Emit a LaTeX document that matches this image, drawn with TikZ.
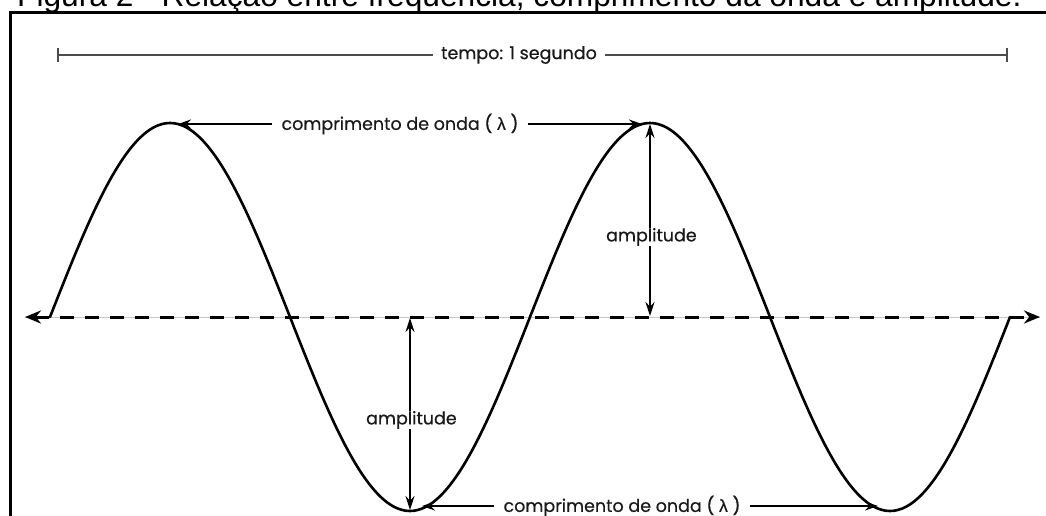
\documentclass[tikz,border=0pt]{standalone}
\usepackage{fontspec}
\setmainfont{Poppins}
\newfontfamily\lblfont{Poppins}[FakeBold=0.5]
\newfontfamily\capfont{Liberation Sans}
\newfontfamily\grkfont{Liberation Sans}[FakeBold=0.5]
\usetikzlibrary{arrows.meta,positioning,calc}

\begin{document}
\begin{tikzpicture}[
    x=1pt, y=-1pt,
    wave/.style={line width=2.6pt, line cap=round},
    wavetext/.style={font=\lblfont\fontsize{17.5}{19}\selectfont, text=black!90, inner sep=0pt},
    gaptext/.style={wavetext, inner xsep=9pt},
    wlarrow/.style={-{Stealth[length=13pt,width=9pt]}, line width=1.4pt},
    amparrow/.style={-{Stealth[length=14pt,width=9pt]}, line width=1.2pt},
    timeline/.style={{Bar[width=14pt]}-, line width=2pt, black!70},
    axisline/.style={{Stealth[length=16pt,width=13pt]}-{Stealth[length=16pt,width=13pt]}, line width=3pt, dash pattern=on 14pt off 11pt}
]
\clip (0,0) rectangle (1046,516);

% Caption and frame
\node[font=\capfont\fontsize{31.7}{34}\selectfont, anchor=base west, inner sep=0pt] (caption) at (17,7) {Figura 2 - Relação entre frequência, comprimento da onda e amplitude.};
\draw[line width=2.5pt] (10.5,530) |- (1060,12.5);

% Time span
\coordinate (tickL) at (57,55);
\coordinate (tickR) at (1008,55);
\node[gaptext, inner xsep=8pt] (tempo) at (519,55) {tempo: 1 segundo};
\draw[timeline] (tickL) -- (tempo);
\draw[timeline] (tickR) -- (tempo);

% Axis
\coordinate (axisL) at (25,317);
\coordinate (axisR) at (1040,317);
\draw[gray!45, line width=0.6pt] (axisL) -- (axisR);
\draw[axisline] (axisL) -- (axisR);

% Wave
\draw[wave] plot[domain=50:1010, samples=241, smooth] (\x, {317-194*sin((\x-50)*0.75)});

% Wavelength, top
\coordinate (crestA) at (178,124);
\coordinate (crestB) at (642,124);
\node[gaptext] (lamtop) at (400,124) {comprimento de onda ( {\grkfont λ} )};
\draw[wlarrow] (lamtop) -- (crestA);
\draw[wlarrow] (lamtop) -- (crestB);

% Wavelength, bottom
\coordinate (troughA) at (422,506);
\coordinate (troughB) at (878,506);
\node[gaptext] (lambot) at (622,506) {comprimento de onda ( {\grkfont λ} )};
\draw[wlarrow] (lambot) -- (troughA);
\draw[wlarrow] (lambot) -- (troughB);

% Amplitudes
\coordinate (ampRtop) at (650,124);
\coordinate (ampRbot) at (650,316);
\node[wavetext] (ampR) at (650,237) {\llap{amp}l\rlap{itude}};
\draw[amparrow] (ampR) -- (ampRtop);
\draw[amparrow] (ampR) -- (ampRbot);

\coordinate (ampLtop) at (410,318);
\coordinate (ampLbot) at (410,510);
\node[wavetext] (ampL) at (410,420) {\llap{amp}l\rlap{itude}};
\draw[amparrow] (ampL) -- (ampLtop);
\draw[amparrow] (ampL) -- (ampLbot);

\end{tikzpicture}
\end{document}
